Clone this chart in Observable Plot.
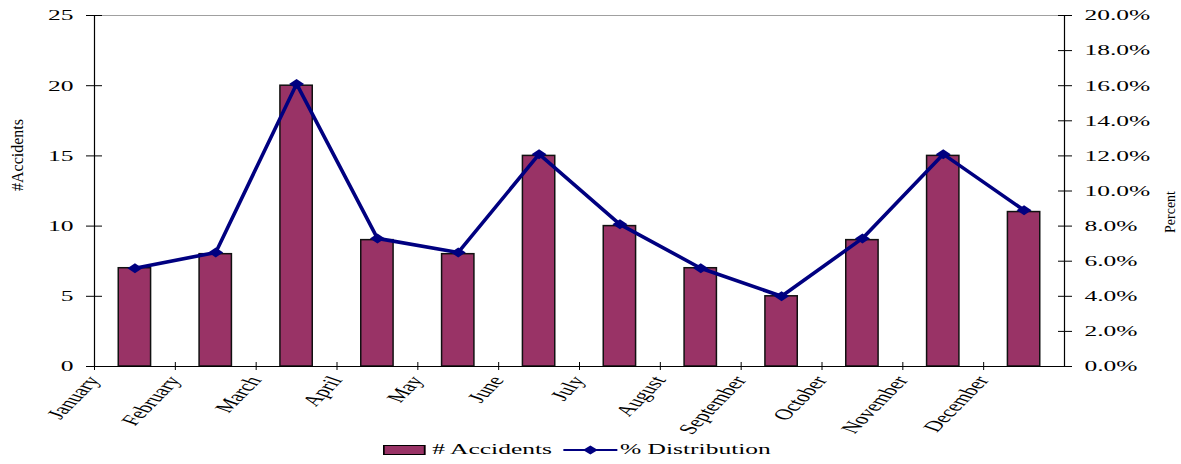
<!DOCTYPE html>
<html>
<head>
<meta charset="utf-8">
<script src="https://cdn.jsdelivr.net/npm/d3@7"></script>
<script src="https://cdn.jsdelivr.net/npm/@observablehq/plot@0.6"></script>
<style>
  html, body { margin: 0; padding: 0; background: #fff; }
  #wrap { position: relative; width: 1181px; height: 464px; overflow: hidden; }
  #legend {
    position: absolute; left: 383px; top: 441px;
    transform: scaleX(1.7); transform-origin: 0 0;
    display: flex; align-items: center; white-space: nowrap;
    font-family: "Liberation Serif", serif; font-size: 15px; color: #000;
  }
  #legend .sw { display: inline-block; width: 23px; height: 8px; background: #993366; border: 1px solid #000; margin-right: 4px; }
  #legend svg { display: inline-block; margin: 0 1px 0 7px; }
</style>
</head>
<body>
<div id="wrap">
  <div id="chart"></div>
  <div id="legend">
    <span class="sw"></span><span># Accidents</span>
    <svg width="32" height="12" viewBox="0 0 32 12"><line x1="0" y1="6" x2="32" y2="6" stroke="#000080" stroke-width="2"/><path d="M11.6,6 L16,1.5 L20.4,6 L16,10.5 Z" fill="#000080"/></svg><span>% Distribution</span>
  </div>
</div>
<script>
const months = ["January","February","March","April","May","June","July","August","September","October","November","December"];
const accidents = [7, 8, 20, 9, 8, 15, 10, 7, 5, 9, 15, 11];
const percent = [5.6, 6.5, 16.1, 7.3, 6.5, 12.1, 8.1, 5.6, 4.0, 7.3, 12.1, 8.9];
const countTicks = [0, 5, 10, 15, 20, 25];
const percentTicks = [0, 2, 4, 6, 8, 10, 12, 14, 16, 18, 20];

const data = months.map((m, i) => ({month: m, count: accidents[i], pct: percent[i]}));

const W = 1181, H = 440, ML = 94, MR = 117, MT = 15, MB = 74;
const step = (W - ML - MR) / months.length;
const k = 25 / 20; // percent -> left axis units
const SX = 1.7;

const wideDiamond = {
  draw(ctx) {
    ctx.moveTo(-7.5, 0); ctx.lineTo(0, -5); ctx.lineTo(7.5, 0); ctx.lineTo(0, 5); ctx.closePath();
  }
};

const svg = Plot.plot({
  width: W, height: H,
  marginLeft: ML, marginRight: MR, marginTop: MT, marginBottom: MB,
  style: {fontFamily: "Liberation Serif, serif", fontSize: "15px", background: "#fff", color: "#000", overflow: "visible"},
  x: {type: "band", domain: months, paddingInner: 0.6, paddingOuter: 0.3, round: false, axis: null},
  y: {domain: [0, 25], axis: null},
  marks: [
    Plot.ruleY([25], {stroke: "#a0a0a0", strokeWidth: 1}),
    Plot.barY(data, {x: "month", y: "count", fill: "#993366", stroke: "#111", strokeWidth: 1.5}),
    Plot.ruleY([0], {stroke: "#000", strokeWidth: 1.2}),
    Plot.ruleX([months[0]], {dx: -step / 2, stroke: "#000", strokeWidth: 1.2}),
    Plot.ruleX([months[months.length - 1]], {dx: step / 2, stroke: "#000", strokeWidth: 1.2}),
    Plot.axisY(countTicks, {anchor: "left", label: null, tickSize: 16, dx: 8, tickPadding: 13, fontSize: 15, tickFormat: d => String(d)}),
    Plot.axisY(percentTicks.map(d => d * k), {anchor: "right", label: null, tickSize: 14, dx: -7, tickPadding: 13, fontSize: 15, tickFormat: d => (d / k).toFixed(1) + "%"}),
    Plot.axisX(months, {anchor: "bottom", label: null, tickSize: 8, dy: -4, dx: -step / 2, tickFormat: () => ""}),
    Plot.text(months, {x: d => d, y: 0, dx: -step / 2 + 2, dy: 11, text: d => d, textAnchor: "end", lineAnchor: "middle", rotate: -59.5, fontSize: 15, fill: "#000"}),
    Plot.line(data, {x: "month", y: d => d.pct * k, stroke: "#000080", strokeWidth: 3.6}),
    Plot.dot(data, {x: "month", y: d => d.pct * k, symbol: wideDiamond, fill: "#000080", stroke: "none"}),
    Plot.text(["#Accidents"], {frameAnchor: "left", dx: -77, rotate: -90, fontSize: 16, fill: "#000", text: d => d}),
    Plot.text(["Percent"], {frameAnchor: "right", dx: 106, rotate: -90, fontSize: 14, fill: "#000", text: d => d})
  ]
});

document.getElementById("chart").appendChild(svg);

// Emulate the horizontally stretched rendering of the reference text:
// wrap each text in a group that scales x about the text's anchor point.
function stretchText(t) {
  const c = t.transform.baseVal.consolidate();
  const M = c ? c.matrix : svg.createSVGMatrix();
  const x = t.x.baseVal.numberOfItems ? t.x.baseVal.getItem(0).value : 0;
  const y = t.y.baseVal.numberOfItems ? t.y.baseVal.getItem(0).value : 0;
  const ax = M.a * x + M.c * y + M.e, ay = M.b * x + M.d * y + M.f;
  const g = document.createElementNS("http://www.w3.org/2000/svg", "g");
  g.setAttribute("transform", `translate(${ax},${ay}) scale(${SX},1) translate(${-ax},${-ay})`);
  t.parentNode.insertBefore(g, t);
  g.appendChild(t);
}
const tickRe = /^\d+(\.\d%)?$/;
Array.from(svg.querySelectorAll("text")).forEach(t => {
  const s = t.textContent.trim();
  if (months.includes(s) || tickRe.test(s)) stretchText(t);
});
</script>
</body>
</html>
